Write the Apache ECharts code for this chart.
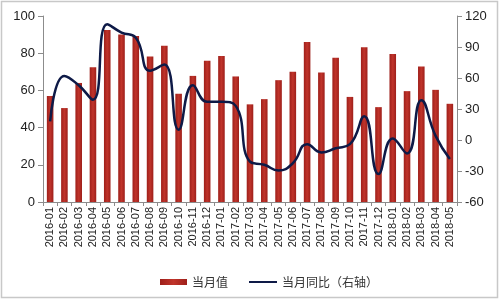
<!DOCTYPE html>
<html>
<head>
<meta charset="utf-8">
<script src="https://cdn.jsdelivr.net/npm/echarts@6/dist/echarts.min.js"></script>
<style>html,body{margin:0;padding:0;background:#fff;}#c{width:500px;height:301px;}</style>
</head>
<body>
<div id="c"></div>
<script>
var categories = ['2016-01','2016-02','2016-03','2016-04','2016-05','2016-06','2016-07','2016-08','2016-09','2016-10','2016-11','2016-12','2017-01','2017-02','2017-03','2017-04','2017-05','2017-06','2017-07','2017-08','2017-09','2017-10','2017-11','2017-12','2018-01','2018-02','2018-03','2018-04','2018-05'];
var monthValue = [57,50.5,64,72.5,92.5,90,89.2,78.2,84,58.2,67.8,76,78.5,67.5,52.5,55.3,65.5,70,86,69.6,77.5,56.5,83.2,51,79.6,59.6,72.8,60.3,52.8];
var yoy = [18,62,53,39,112,104,99,67,73,10,53,37,37,33,-21,-24,-29.5,-22.5,-4,-12,-8,-4,23,-33,1.5,-13,38.5,4,-18.5];
var leftTicks = [0,100,20];
var rightTicks = [-60,120,30];

var chart = echarts.init(document.getElementById('c'));
var axisLine = {show:true, lineStyle:{color:'#8c8c8c', width:1}};
var legendText = {fontFamily:'Noto Sans CJK SC', fontSize:12, color:'#333'};
chart.setOption({
  animation:false,
  textStyle:{fontFamily:'Liberation Sans, Arial, sans-serif'},
  graphic:[{type:'rect', shape:{x:1.5,y:1.5,width:496,height:296}, style:{fill:'none', stroke:'#c8c8c8', lineWidth:1.5}}],
  grid:{left:43, right:43, top:16, bottom:99},
  legend:[
    {left:155, top:271, itemWidth:27, itemHeight:6, itemGap:10, icon:'rect',
     textStyle:legendText, data:['当月值']},
    {left:244, top:271, itemWidth:28, itemHeight:2, itemGap:10, icon:'rect',
     textStyle:legendText, data:['当月同比（右轴）']}
  ],
  xAxis:{
    type:'category', data:categories, boundaryGap:true,
    axisLine:axisLine,
    axisTick:{show:true, alignWithLabel:false, length:4, lineStyle:{color:'#8c8c8c'}},
    axisLabel:{rotate:90, fontSize:11, color:'#222', margin:5, interval:0, fontFamily:'Liberation Sans, Arial'}
  },
  yAxis:[
    {type:'value', min:leftTicks[0], max:leftTicks[1], interval:leftTicks[2],
     axisLine:axisLine, axisTick:{show:true, length:5, lineStyle:{color:'#8c8c8c'}},
     splitLine:{show:false},
     axisLabel:{fontSize:13, color:'#222', margin:8}},
    {type:'value', min:rightTicks[0], max:rightTicks[1], interval:rightTicks[2],
     axisLine:axisLine, axisTick:{show:true, length:5, lineStyle:{color:'#8c8c8c'}},
     splitLine:{show:false},
     axisLabel:{fontSize:13, color:'#222', margin:8}}
  ],
  series:[
    {name:'当月值', type:'bar', data:monthValue, barWidth:'46%', yAxisIndex:0,
     itemStyle:{color:new echarts.graphic.LinearGradient(0,0,1,0,[{offset:0,color:'#9e1f1a'},{offset:0.5,color:'#c0342b'},{offset:1,color:'#9e1f1a'}])}},
    {name:'当月同比（右轴）', type:'line', data:yoy, yAxisIndex:1, smooth:0.5, symbol:'none',
     lineStyle:{color:'#0e1a47', width:2.5}, itemStyle:{color:'#0e1a47'}}
  ]
});
</script>
</body>
</html>
